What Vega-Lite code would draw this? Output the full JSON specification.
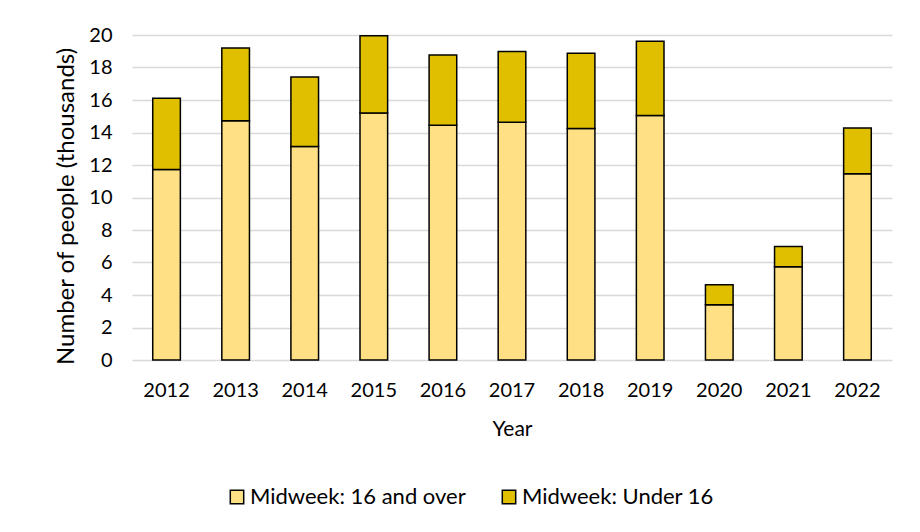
{
  "$schema": "https://vega.github.io/schema/vega-lite/v6.json",
  "width": 760,
  "height": 325,
  "autosize": {"type": "none"},
  "padding": {"left": 132, "top": 35, "right": 28, "bottom": 172},
  "background": "white",
  "data": {
    "values": [
      {"year": "2012", "group": "Midweek: 16 and over", "value": 11.72},
      {"year": "2012", "group": "Midweek: Under 16", "value": 4.39},
      {"year": "2013", "group": "Midweek: 16 and over", "value": 14.73},
      {"year": "2013", "group": "Midweek: Under 16", "value": 4.47},
      {"year": "2014", "group": "Midweek: 16 and over", "value": 13.14},
      {"year": "2014", "group": "Midweek: Under 16", "value": 4.28},
      {"year": "2015", "group": "Midweek: 16 and over", "value": 15.2},
      {"year": "2015", "group": "Midweek: Under 16", "value": 4.76},
      {"year": "2016", "group": "Midweek: 16 and over", "value": 14.45},
      {"year": "2016", "group": "Midweek: Under 16", "value": 4.32},
      {"year": "2017", "group": "Midweek: 16 and over", "value": 14.63},
      {"year": "2017", "group": "Midweek: Under 16", "value": 4.35},
      {"year": "2018", "group": "Midweek: 16 and over", "value": 14.24},
      {"year": "2018", "group": "Midweek: Under 16", "value": 4.63},
      {"year": "2019", "group": "Midweek: 16 and over", "value": 15.04},
      {"year": "2019", "group": "Midweek: Under 16", "value": 4.57},
      {"year": "2020", "group": "Midweek: 16 and over", "value": 3.4},
      {"year": "2020", "group": "Midweek: Under 16", "value": 1.23},
      {"year": "2021", "group": "Midweek: 16 and over", "value": 5.74},
      {"year": "2021", "group": "Midweek: Under 16", "value": 1.25},
      {"year": "2022", "group": "Midweek: 16 and over", "value": 11.46},
      {"year": "2022", "group": "Midweek: Under 16", "value": 2.82}
    ]
  },
  "mark": {"type": "bar", "stroke": "black", "strokeWidth": 1.5},
  "encoding": {
    "x": {
      "field": "year",
      "type": "nominal",
      "title": "Year",
      "scale": {"paddingInner": 0.6, "paddingOuter": 0.3},
      "axis": {
        "labelAngle": 0,
        "labelFontSize": 20,
        "titleFontSize": 21,
        "labelPadding": 20,
        "titlePadding": 18,
        "ticks": false,
        "domain": false,
        "titleFontWeight": "normal",
        "labelColor": "black",
        "titleColor": "black"
      }
    },
    "y": {
      "field": "value",
      "type": "quantitative",
      "stack": "zero",
      "title": "Number of people (thousands)",
      "scale": {"domain": [0, 20], "nice": false},
      "axis": {
        "values": [0, 2, 4, 6, 8, 10, 12, 14, 16, 18, 20],
        "labelFontSize": 20,
        "titleFontSize": 24,
        "labelPadding": 20,
        "titlePadding": 10,
        "titleY": 171,
        "ticks": false,
        "domain": false,
        "grid": true,
        "gridColor": "#d9d9d9",
        "gridWidth": 1.5,
        "titleFontWeight": "normal",
        "labelColor": "black",
        "titleColor": "black"
      }
    },
    "order": {"field": "group", "type": "nominal", "sort": "ascending"},
    "color": {
      "field": "group",
      "type": "nominal",
      "title": null,
      "scale": {
        "domain": ["Midweek: 16 and over", "Midweek: Under 16"],
        "range": ["#FFE085", "#DFBF00"]
      },
      "legend": {
        "orient": "none",
        "legendX": 94,
        "legendY": 451,
        "direction": "horizontal",
        "symbolType": "square",
        "symbolSize": 180,
        "symbolStrokeColor": "black",
        "symbolStrokeWidth": 1.5,
        "labelFontSize": 22,
        "labelOffset": 2,
        "labelColor": "black",
        "columnPadding": 32,
        "labelLimit": 400
      }
    }
  },
  "config": {
    "font": "Lato",
    "view": {"stroke": null}
  }
}
